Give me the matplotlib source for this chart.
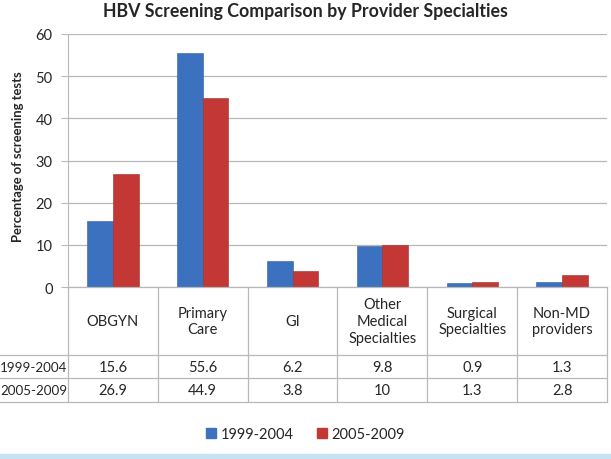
import numpy as np
import matplotlib
matplotlib.use("Agg")
import matplotlib.pyplot as plt
from matplotlib.patches import Rectangle, Patch
from matplotlib.lines import Line2D

plt.rcParams["font.family"] = ["Lato", "DejaVu Sans"]

categories = ["OBGYN", "Primary\nCare", "GI", "Other\nMedical\nSpecialties",
              "Surgical\nSpecialties", "Non-MD\nproviders"]
series_names = ["1999-2004", "2005-2009"]
vals_1999 = [15.6, 55.6, 6.2, 9.8, 0.9, 1.3]
vals_2005 = [26.9, 44.9, 3.8, 10, 1.3, 2.8]
table_1999 = ["15.6", "55.6", "6.2", "9.8", "0.9", "1.3"]
table_2005 = ["26.9", "44.9", "3.8", "10", "1.3", "2.8"]
yticks = [0, 10, 20, 30, 40, 50, 60]

BLUE = "#3C71BF"
RED = "#C33734"
GRID = "#B8B8B8"
TXT = "#262626"

W, H = 611, 460
fig = plt.figure(figsize=(W / 100, H / 100), dpi=100)


def box(x0, y0, x1, y1):
    # pixel box (top-left origin) -> figure fraction
    return [x0 / W, 1 - y1 / H, (x1 - x0) / W, (y1 - y0) / H]


ax = fig.add_axes(box(68, 35, 607, 288))
x = np.arange(len(categories))
bw = 0.285
ax.bar(x - bw / 2, vals_1999, bw, color=BLUE, edgecolor="#2F5E9E", linewidth=0.4, zorder=3)
ax.bar(x + bw / 2, vals_2005, bw, color=RED, edgecolor="#9E2B28", linewidth=0.4, zorder=3)
ax.set_xlim(-0.5, len(categories) - 0.5)
ax.set_ylim(0, 60)
ax.set_yticks(yticks)
ax.set_yticklabels([str(t) for t in yticks], fontsize=10.5, color=TXT)
ax.tick_params(axis="y", length=5, color=GRID, pad=6)
ax.set_xticks([])
ax.grid(axis="y", color=GRID, linewidth=0.9, zorder=0)
for s in ["top", "right", "bottom"]:
    ax.spines[s].set_visible(False)
ax.spines["left"].set_color(GRID)

fig.text(18 / W, 1 - 157 / H, "Percentage of screening tests", rotation=90,
         ha="center", va="center", fontsize=9.4, fontweight="bold", color=TXT)
fig.text(0.5, 1 - 12 / H, "HBV Screening Comparison by Provider Specialties",
         ha="center", va="center", fontsize=12.8, fontweight="bold", color=TXT)

# data table below the plot
tax = fig.add_axes(box(68, 288, 607, 403))
tax.set_xlim(-0.5, len(categories) - 0.5)
tax.set_ylim(115, 0)
tax.axis("off")
hdr, r1, r2 = 68, 91, 115
for xv in np.arange(-0.5, len(categories), 1.0):
    tax.add_line(Line2D([xv, xv], [0, 115], color=GRID, lw=0.9, clip_on=False))
tax.add_line(Line2D([-0.5, 5.5], [0, 0], color=GRID, lw=0.9, clip_on=False))
for yv in [hdr, r1, r2]:
    tax.add_line(Line2D([-1.3, 5.5], [yv, yv], color=GRID, lw=0.9, clip_on=False))
for i, c in enumerate(categories):
    tax.text(i, hdr / 2, c, ha="center", va="center", fontsize=10.5,
             color=TXT, linespacing=1.25)
    tax.text(i, (hdr + r1) / 2, table_1999[i], ha="center", va="center",
             fontsize=10.5, color=TXT)
    tax.text(i, (r1 + r2) / 2, table_2005[i], ha="center", va="center",
             fontsize=10.5, color=TXT)
tax.text(-0.51, (hdr + r1) / 2, series_names[0], ha="right", va="center",
         fontsize=9.6, color=TXT, clip_on=False)
tax.text(-0.51, (r1 + r2) / 2, series_names[1], ha="right", va="center",
         fontsize=9.6, color=TXT, clip_on=False)

handles = [Patch(color=BLUE, label=series_names[0]), Patch(color=RED, label=series_names[1])]
fig.legend(handles=handles, loc="center", bbox_to_anchor=(0.5, 1 - 435 / H), ncol=2,
           frameon=False, fontsize=10.5, handlelength=0.7, handleheight=0.7,
           handletextpad=0.3, columnspacing=1.6, labelcolor=TXT)

fig.patches.append(Rectangle((0, 0), 1, 5 / H, transform=fig.transFigure,
                             color="#C6E3F1", zorder=0))

fig.savefig("out.png", dpi=100)
